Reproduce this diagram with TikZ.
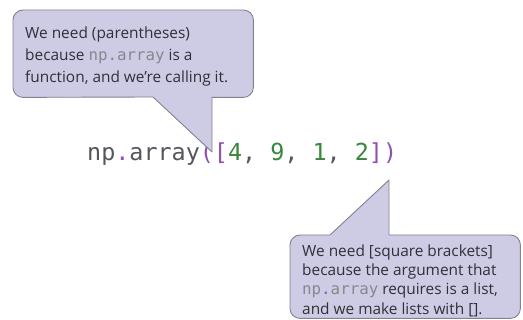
\documentclass[tikz,border=0pt]{standalone}
\usepackage{fontspec}
\setmainfont{Open Sans}
\newfontfamily\codefont{DejaVu Sans Mono}
\usetikzlibrary{calc}
\definecolor{bubblefill}{RGB}{206,204,229}
\definecolor{bubbleline}{RGB}{130,128,145}
\definecolor{notetext}{RGB}{48,48,56}
\definecolor{notegray}{RGB}{135,135,142}
\definecolor{codegray}{RGB}{85,85,92}
\definecolor{codepurple}{RGB}{145,80,175}
\definecolor{codegreen}{RGB}{55,135,60}
\newcommand{\npname}[1]{{\codefont\fontsize{15.8}{15.8}\selectfont
    \textcolor{notegray}{np}\textcolor{#1}{.}\textcolor{notegray}{array}}}
\tikzset{
    body/.style =   {rectangle,
                    inner sep=0pt,
                    anchor=north west},
    note/.style =   {rectangle,
                    text=notetext,
                    align=left,
                    inner sep=0pt,
                    anchor=north west},
    bubble/.style = {fill=bubblefill,
                    draw=bubbleline,
                    line width=0.9pt,
                    line join=round},
    code/.style =   {inner sep=0pt,
                    anchor=base west,
                    text=codegray,
                    font=\codefont\fontsize{23.4}{23.4}\selectfont}}
\begin{document}
\begin{tikzpicture}[x=1pt,y=-1pt]
    \useasboundingbox (0,0) rectangle (523,320);

    \node[code]     (call)  at (87,161)     {np\textcolor{codepurple}{.}array\textcolor{codepurple}{([}\textcolor{codegreen}{4}, \textcolor{codegreen}{9}, \textcolor{codegreen}{1}, \textcolor{codegreen}{2}\textcolor{codepurple}{])}};

    % upper bubble
    \node[body, minimum width=240pt, minimum height=87pt]   (b1) at (13,10) {};
    \coordinate (base1) at (153,97);
    \coordinate (tip1)  at (212,152);
    \draw[bubble]   (b1.north) [rounded corners=10pt] -- (b1.north east) -- (b1.south east)
                    [sharp corners] -- (tip1 |- b1.south) -- (tip1) -- (base1)
                    [rounded corners=10pt] -- (b1.south west) -- (b1.north west) -- cycle;
    \node[note, font=\fontsize{15.4}{22}\selectfont] (t1) at ([shift={(12,16.3)}]b1.north west)
        {We need (parentheses)\\because \npname{notegray} is a\\function, and we’re calling it.};

    % lower bubble
    \node[body, minimum width=230pt, minimum height=83pt]   (b2) at (290,235) {};
    \coordinate (base2) at (330,235);
    \coordinate (tip2)  at (389,180);
    \draw[bubble]   (b2.west) [rounded corners=10pt] -- (b2.north west)
                    [sharp corners] -- (base2) -- (tip2) -- (tip2 |- b2.north)
                    [rounded corners=10pt] -- (b2.north east) -- (b2.south east) -- (b2.south west) -- cycle;
    \node[note, font=\fontsize{15.4}{19.3}\selectfont] (t2) at ([shift={(12,9.3)}]b2.north west)
        {We need [square brackets]\\because the argument that\\\npname{codepurple} requires is a list,\\and we make lists with [].};
\end{tikzpicture}
\end{document}
